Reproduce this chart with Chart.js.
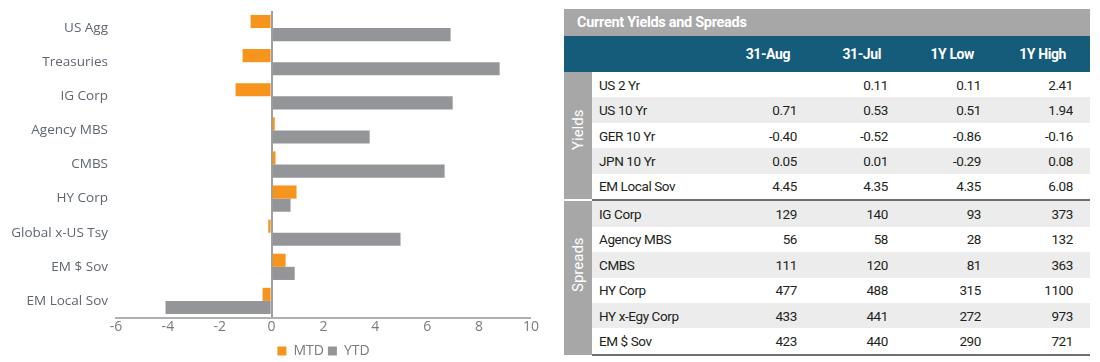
<!DOCTYPE html>
<html>
<head>
<meta charset="utf-8">
<script src="https://cdn.jsdelivr.net/npm/chart.js@4.4.0/dist/chart.umd.min.js"></script>
<style>
  body { margin: 0; background: #fff; width: 1100px; height: 362px; overflow: hidden; position: relative; }
  #chartBox { position: absolute; left: 0; top: 0; width: 550px; height: 362px; }
  #tbl { position: absolute; left: 564px; top: 9px; width: 526px; table-layout: fixed; border-collapse: collapse; font-family: Roboto, sans-serif; font-size: 13.5px; letter-spacing: -0.4px; color: #231f20; }
  #tbl td { padding: 0; height: 25.45px; line-height: 14px; white-space: nowrap; overflow: hidden; }
  #tbl tr.title td { background: #a7a7a7; color: #fff; font-weight: bold; height: 27px; padding-left: 13px; font-size: 14.5px; letter-spacing: -0.3px; }
  #tbl tr.head td { background: #155b7a; color: #fff; font-weight: bold; height: 36px; text-align: right; padding-right: 7px; font-size: 14px; letter-spacing: -0.4px; }
  #tbl td.side { background: #a7a7a7; color: #fff; text-align: center; overflow: visible; }
  #tbl td.side div { transform: rotate(-90deg); font-size: 15px; letter-spacing: 0; }
  #tbl td.lbl { padding-left: 7px; }
  #tbl td.num { text-align: right; }
  #tbl tr.shade td:not(.side) { background: #ececec; }
  #tbl tr.sep td:not(.side) { border-top: 2px solid #6d6e71; }
  #tbl tr.sep td.side { border-top: 2px solid #fff; }
  #tbl tr.last td { border-bottom: 2px solid #6d6e71; }
</style>
</head>
<body>
<div id="chartBox"><canvas id="myChart" width="550" height="362"></canvas></div>
<table id="tbl"></table>
<script>
// chart data
const categories = ['US Agg', 'Treasuries', 'IG Corp', 'Agency MBS', 'CMBS', 'HY Corp', 'Global x-US Tsy', 'EM $ Sov', 'EM Local Sov'];
const mtdValues = [-0.81, -1.12, -1.39, 0.12, 0.15, 0.96, -0.13, 0.54, -0.35];
const ytdValues = [6.90, 8.79, 6.98, 3.78, 6.67, 0.73, 4.97, 0.89, -4.09];

// table data
const tableTitle = 'Current Yields and Spreads';
const tableColumns = ['31-Aug', '31-Jul', '1Y Low', '1Y High'];
const yieldNames = ['US 2 Yr', 'US 10 Yr', 'GER 10 Yr', 'JPN 10 Yr', 'EM Local Sov'];
const yieldRows = [
    ['', '0.11', '0.11', '2.41'],
    ['0.71', '0.53', '0.51', '1.94'],
    ['-0.40', '-0.52', '-0.86', '-0.16'],
    ['0.05', '0.01', '-0.29', '0.08'],
    ['4.45', '4.35', '4.35', '6.08']
];
const spreadNames = ['IG Corp', 'Agency MBS', 'CMBS', 'HY Corp', 'HY x-Egy Corp', 'EM $ Sov'];
const spreadRows = [
    ['129', '140', '93', '373'],
    ['56', '58', '28', '132'],
    ['111', '120', '81', '363'],
    ['477', '488', '315', '1100'],
    ['433', '441', '272', '973'],
    ['423', '440', '290', '721']
];

function buildTable() {
    const colWidths = [28, 128, 77, 91, 93, 92, 17];
    let html = '<colgroup>';
    colWidths.forEach(w => { html += `<col style="width:${w}px">`; });
    html += '</colgroup>';
    html += `<tr class="title"><td colspan="7">${tableTitle}</td></tr>`;
    html += '<tr class="head"><td></td><td></td>';
    tableColumns.forEach(c => { html += `<td>${c}</td>`; });
    html += '<td style="padding:0"></td></tr>';

    const addGroup = (name, names, rows, first) => {
        names.forEach((n, i) => {
            const cls = [];
            // shading alternates over the whole table body
            if ((first + i) % 2 === 1) cls.push('shade');
            if (i === 0 && first > 0) cls.push('sep');
            if (name === 'Spreads' && i === names.length - 1) cls.push('last');
            html += `<tr class="${cls.join(' ')}">`;
            if (i === 0) html += `<td class="side" rowspan="${names.length}"><div>${name}</div></td>`;
            html += `<td class="lbl">${n}</td>`;
            rows[i].forEach(v => { html += `<td class="num">${v}</td>`; });
            html += '<td></td></tr>';
        });
    };
    addGroup('Yields', yieldNames, yieldRows, 0);
    addGroup('Spreads', spreadNames, spreadRows, yieldNames.length);
    document.getElementById('tbl').innerHTML = html;
}
buildTable();

const ctx = document.getElementById('myChart').getContext('2d');
new Chart(ctx, {
    type: 'bar',
    data: {
        labels: categories,
        datasets: [
            { label: 'MTD', data: mtdValues, backgroundColor: '#f7941d', categoryPercentage: 0.77, barPercentage: 1.0 },
            { label: 'YTD', data: ytdValues, backgroundColor: '#939598', categoryPercentage: 0.77, barPercentage: 1.0 }
        ]
    },
    options: {
        indexAxis: 'y',
        responsive: false,
        animation: false,
        layout: { padding: { top: 11, right: 19, left: 0, bottom: -6 } },
        scales: {
            x: {
                min: -6, max: 10,
                ticks: { stepSize: 2, color: '#7a7a7a', font: { family: 'Open Sans', size: 14 }, padding: 1 },
                grid: {
                    drawTicks: false,
                    color: c => (c.tick && c.tick.value === 0) ? '#a0a0a0' : 'rgba(0,0,0,0)',
                    lineWidth: c => (c.tick && c.tick.value === 0) ? 2 : 0
                },
                border: { color: '#b0b0b0', width: 2 },
                afterFit: s => { s.height = 22; }
            },
            y: {
                ticks: { color: '#5f6670', font: { family: 'Open Sans', size: 13.5 }, padding: 8 },
                grid: { display: false, drawTicks: false },
                border: { display: false },
                afterFit: s => { s.width = 116; s.paddingTop = 0; s.paddingBottom = 0; }
            }
        },
        plugins: {
            legend: {
                position: 'bottom',
                fullSize: false,
                labels: { boxWidth: 9, boxHeight: 9, color: '#7a7a7a', font: { family: 'Open Sans', size: 14 }, padding: 4 }
            },
            tooltip: { enabled: false }
        }
    }
});
</script>
</body>
</html>
